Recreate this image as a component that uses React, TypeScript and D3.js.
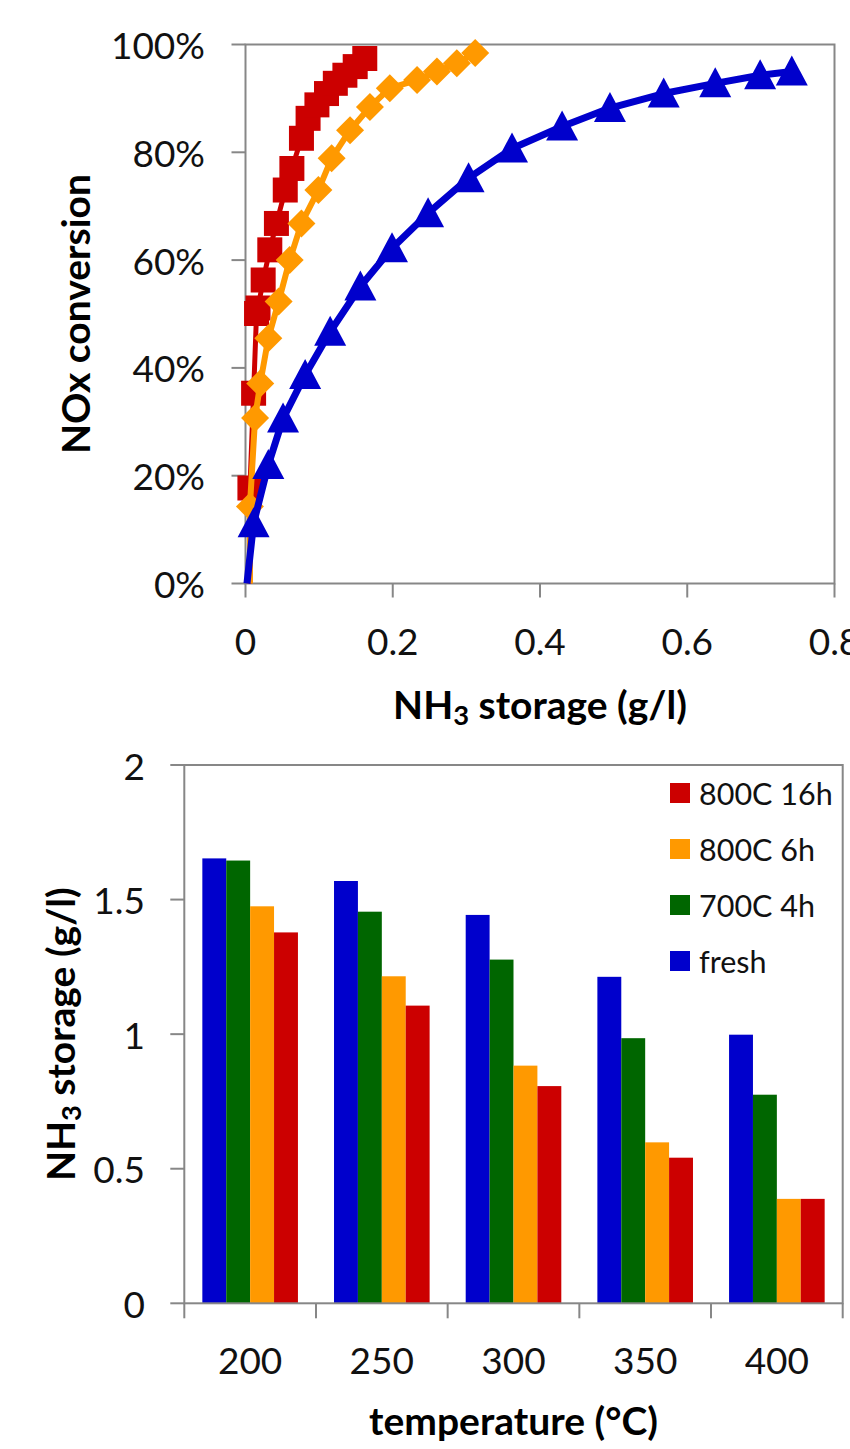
import * as d3 from "d3";

// top chart: NOx conversion vs NH3 storage (x in g/l, y as fraction)
const red16hX = [0.006, 0.006, 0.011, 0.015, 0.017, 0.024, 0.033, 0.042, 0.054, 0.063, 0.076, 0.085, 0.097, 0.110, 0.122, 0.135, 0.149, 0.162];
const red16hY = [0.0, 0.177, 0.353, 0.501, 0.511, 0.563, 0.619, 0.668, 0.730, 0.770, 0.826, 0.863, 0.888, 0.909, 0.928, 0.943, 0.959, 0.974];
const orange6hX = [0.006, 0.006, 0.013, 0.020, 0.031, 0.045, 0.060, 0.076, 0.099, 0.117, 0.142, 0.169, 0.196, 0.233, 0.260, 0.287, 0.312];
const orange6hY = [0.0, 0.143, 0.307, 0.371, 0.455, 0.523, 0.600, 0.668, 0.730, 0.789, 0.841, 0.884, 0.919, 0.934, 0.950, 0.965, 0.984];
const freshX = [0.002, 0.011, 0.031, 0.051, 0.081, 0.115, 0.156, 0.199, 0.248, 0.303, 0.362, 0.430, 0.495, 0.568, 0.638, 0.699, 0.742];
const freshY = [0.0, 0.112, 0.220, 0.306, 0.387, 0.467, 0.551, 0.622, 0.687, 0.752, 0.807, 0.848, 0.882, 0.909, 0.928, 0.943, 0.950];

const convTicks = [0, 0.2, 0.4, 0.6, 0.8, 1];
const storageTicks = [0, 0.2, 0.4, 0.6, 0.8];

// bottom chart: NH3 storage by temperature
const temps = ["200", "250", "300", "350", "400"];
const barSeries = ["fresh", "700C 4h", "800C 6h", "800C 16h"];
const freshVals = [1.653, 1.569, 1.443, 1.213, 0.998];
const c700_4hVals = [1.645, 1.455, 1.277, 0.985, 0.775];
const c800_6hVals = [1.475, 1.215, 0.883, 0.598, 0.388];
const c800_16hVals = [1.378, 1.106, 0.807, 0.541, 0.388];
const barTicks = [0, 0.5, 1, 1.5, 2];
const legendOrder = ["800C 16h", "800C 6h", "700C 4h", "fresh"];

const colors: Record<string, string> = {
  "fresh": "#0000cc",
  "700C 4h": "#006600",
  "800C 6h": "#ff9900",
  "800C 16h": "#cc0000",
};

const FONT = "Lato, 'Open Sans', sans-serif";
const AXIS = "#878787";

function square(x: number, y: number) {
  const s = 12.5;
  return `M${x - s},${y - s}h${2 * s}v${2 * s}h${-2 * s}Z`;
}
function diamond(x: number, y: number) {
  const s = 14;
  return `M${x},${y - s}L${x + s},${y}L${x},${y + s}L${x - s},${y}Z`;
}
function triangle(x: number, y: number) {
  return `M${x},${y - 16}L${x + 16},${y + 14}L${x - 16},${y + 14}Z`;
}

function NH3({ x, y, size, anchor = "middle", transform }: any) {
  return (
    <text x={x} y={y} fontSize={size} fontWeight="bold" textAnchor={anchor} dominantBaseline="central" transform={transform} fontFamily={FONT} fill="#000">
      NH<tspan fontSize={size * 0.7} dy={size * 0.25}>3</tspan>
      <tspan dy={-size * 0.25}> storage (g/l)</tspan>
    </text>
  );
}

function LineChart() {
  const left = 245.5, right = 834.5, top = 44.5, bottom = 583.5;
  const x = d3.scaleLinear().domain([0, 0.8]).range([left, right]);
  const y = d3.scaleLinear().domain([0, 1]).range([bottom, top]);
  const line = d3.line<[number, number]>().x((d) => x(d[0])).y((d) => y(d[1]));
  const series = [
    { xs: red16hX, ys: red16hY, color: colors["800C 16h"], marker: square, w: 5 },
    { xs: orange6hX, ys: orange6hY, color: colors["800C 6h"], marker: diamond, w: 6 },
    { xs: freshX, ys: freshY, color: colors["fresh"], marker: triangle, w: 7 },
  ];
  const pct = d3.format(".0%");
  const num = d3.format("~g");
  return (
    <g>
      <rect x={left} y={top} width={right - left} height={bottom - top} fill="none" stroke={AXIS} strokeWidth={2} />
      {convTicks.map((t) => (
        <g key={t}>
          <line x1={left - 14} x2={left} y1={y(t)} y2={y(t)} stroke={AXIS} strokeWidth={2} />
          <text x={205} y={y(t)} textAnchor="end" dominantBaseline="central" fontSize={37} fontFamily={FONT} fill="#111">{pct(t)}</text>
        </g>
      ))}
      {storageTicks.map((t) => (
        <g key={t}>
          <line x1={x(t)} x2={x(t)} y1={bottom} y2={bottom + 14} stroke={AXIS} strokeWidth={2} />
          <text x={x(t)} y={640} textAnchor="middle" dominantBaseline="central" fontSize={37} fontFamily={FONT} fill="#111">{num(t)}</text>
        </g>
      ))}
      {series.map((s, i) => {
        const pts = s.xs.map((v, j) => [v, s.ys[j]] as [number, number]);
        return (
          <g key={i}>
            <path d={line(pts) || ""} fill="none" stroke={s.color} strokeWidth={s.w} strokeLinejoin="round" />
            {pts.filter((p) => p[1] > 0).map((p, j) => (
              <path key={j} d={s.marker(x(p[0]), y(p[1]))} fill={s.color} />
            ))}
          </g>
        );
      })}
      <text transform="translate(75,314) rotate(-90)" textAnchor="middle" dominantBaseline="central" fontSize={39} fontWeight="bold" fontFamily={FONT} fill="#000">NOx conversion</text>
      <NH3 x={540} y={704} size={39} />
    </g>
  );
}

function BarChart() {
  const left = 184.3, right = 842.7, top = 765, bottom = 1303.3;
  const x = d3.scaleBand().domain(temps).range([left, right]).paddingInner(0.274).paddingOuter(0.137);
  const xs = d3.scaleBand().domain(barSeries).range([0, x.bandwidth()]);
  const y = d3.scaleLinear().domain([0, 2]).range([bottom, top]);
  const values: Record<string, number[]> = {
    "fresh": freshVals,
    "700C 4h": c700_4hVals,
    "800C 6h": c800_6hVals,
    "800C 16h": c800_16hVals,
  };
  const step = x.step();
  return (
    <g>
      {temps.map((t, i) => (
        <g key={t}>
          {barSeries.map((s) => (
            <rect key={s} x={(x(t) || 0) + (xs(s) || 0)} y={y(values[s][i])} width={xs.bandwidth()} height={bottom - y(values[s][i])} fill={colors[s]} />
          ))}
        </g>
      ))}
      <rect x={left} y={top} width={right - left} height={bottom - top} fill="none" stroke={AXIS} strokeWidth={2} />
      {barTicks.map((t) => (
        <g key={t}>
          <line x1={left - 14} x2={left} y1={y(t)} y2={y(t)} stroke={AXIS} strokeWidth={2} />
          <text x={145} y={y(t)} textAnchor="end" dominantBaseline="central" fontSize={37} fontFamily={FONT} fill="#111">{d3.format("~g")(t)}</text>
        </g>
      ))}
      {d3.range(temps.length + 1).map((i) => (
        <line key={i} x1={left + i * step} x2={left + i * step} y1={bottom} y2={bottom + 15} stroke={AXIS} strokeWidth={2} />
      ))}
      {temps.map((t) => (
        <text key={t} x={(x(t) || 0) + x.bandwidth() / 2} y={1359} textAnchor="middle" dominantBaseline="central" fontSize={37} fontFamily={FONT} fill="#111">{t}</text>
      ))}
      {legendOrder.map((s, i) => (
        <g key={s} transform={`translate(670,${793 + i * 56})`}>
          <rect x={0} y={-10} width={20} height={20} fill={colors[s]} />
          <text x={29} y={0} dominantBaseline="central" fontSize={30.5} fontFamily={FONT} fill="#111">{s}</text>
        </g>
      ))}
      <NH3 x={0} y={0} size={39} transform={`translate(60,${(top + bottom) / 2}) rotate(-90)`} />
      <text x={(left + right) / 2} y={1420} textAnchor="middle" dominantBaseline="central" fontSize={39} fontWeight="bold" fontFamily={FONT} fill="#000">temperature (°C)</text>
    </g>
  );
}

export default function App() {
  return (
    <svg width={850} height={1449} style={{ position: "absolute", left: 0, top: 0, background: "#fff" }}>
      <rect width={850} height={1449} fill="#fff" />
      <LineChart />
      <BarChart />
    </svg>
  );
}
